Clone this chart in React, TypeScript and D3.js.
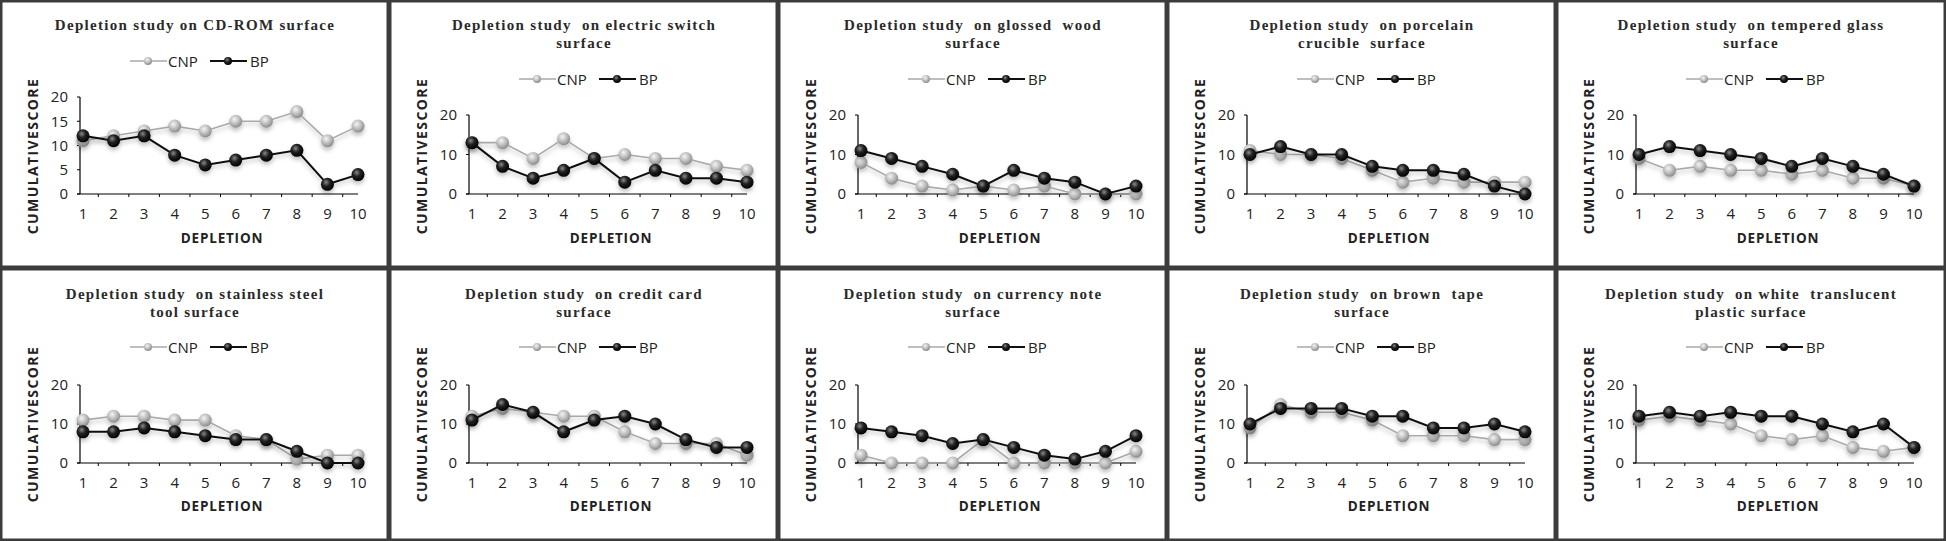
import React from "react";
import * as d3 from "d3";

// depletion number (x categories)
const depletions = [1, 2, 3, 4, 5, 6, 7, 8, 9, 10];
const seriesNames = ["CNP", "BP"];

// cumulative scores
const cdromCNP = [11, 12, 13, 14, 13, 15, 15, 17, 11, 14];
const cdromBP = [12, 11, 12, 8, 6, 7, 8, 9, 2, 4];
const switchCNP = [13, 13, 9, 14, 9, 10, 9, 9, 7, 6];
const switchBP = [13, 7, 4, 6, 9, 3, 6, 4, 4, 3];
const woodCNP = [8, 4, 2, 1, 2, 1, 2, 0, 0, 0];
const woodBP = [11, 9, 7, 5, 2, 6, 4, 3, 0, 2];
const porcelainCNP = [11, 10, 10, 9, 6, 3, 4, 3, 3, 3];
const porcelainBP = [10, 12, 10, 10, 7, 6, 6, 5, 2, 0];
const glassCNP = [9, 6, 7, 6, 6, 5, 6, 4, 4, 2];
const glassBP = [10, 12, 11, 10, 9, 7, 9, 7, 5, 2];
const steelCNP = [11, 12, 12, 11, 11, 7, 6, 1, 2, 2];
const steelBP = [8, 8, 9, 8, 7, 6, 6, 3, 0, 0];
const cardCNP = [12, 14, 13, 12, 12, 8, 5, 5, 5, 2];
const cardBP = [11, 15, 13, 8, 11, 12, 10, 6, 4, 4];
const noteCNP = [2, 0, 0, 0, 6, 0, 0, 0, 0, 3];
const noteBP = [9, 8, 7, 5, 6, 4, 2, 1, 3, 7];
const tapeCNP = [9, 15, 13, 13, 11, 7, 7, 7, 6, 6];
const tapeBP = [10, 14, 14, 14, 12, 12, 9, 9, 10, 8];
const plasticCNP = [11, 12, 11, 10, 7, 6, 7, 4, 3, 4];
const plasticBP = [12, 13, 12, 13, 12, 12, 10, 8, 10, 4];

const titles = [
  ["Depletion study on CD-ROM surface"],
  ["Depletion study  on electric switch", "surface"],
  ["Depletion study  on glossed  wood", "surface"],
  ["Depletion study  on porcelain", "crucible  surface"],
  ["Depletion study  on tempered glass", "surface"],
  ["Depletion study  on stainless steel", "tool surface"],
  ["Depletion study  on credit card", "surface"],
  ["Depletion study  on currency note", "surface"],
  ["Depletion study  on brown  tape", "surface"],
  ["Depletion study  on white  translucent", "plastic surface"],
];

const cnpSeries = [cdromCNP, switchCNP, woodCNP, porcelainCNP, glassCNP, steelCNP, cardCNP, noteCNP, tapeCNP, plasticCNP];
const bpSeries = [cdromBP, switchBP, woodBP, porcelainBP, glassBP, steelBP, cardBP, noteBP, tapeBP, plasticBP];

const ticksFine = [0, 5, 10, 15, 20];
const ticksCoarse = [0, 10, 20];

const W = 1946;
const H = 541;
const colW = 389;
const rowTops = [0, 268];
const rowHeights = [268, 273];

const tickFont = "'Open Sans', 'Noto Sans', sans-serif";
const titleFont = "'Liberation Serif', serif";

function Panel({ index }: { index: number }) {
  const col = index % 5;
  const row = Math.floor(index / 5);
  const px = col * colW;
  const py = rowTops[row];
  const pw = col === 4 ? W - px : colW;
  const ph = rowHeights[row];
  const single = titles[index].length === 1;

  const yTop = single ? 97 : row === 0 ? 115 : 117;
  const yBottom = row === 0 ? 194 : 195;
  const axisX = 80;
  const yTicks = single ? ticksFine : ticksCoarse;
  const legendY = single ? 67 : 85;

  const x = d3.scalePoint<number>().domain(depletions).range([83, 358]);
  const y = d3.scaleLinear().domain([0, 20]).range([yBottom, yTop]);
  const line = d3
    .line<number>()
    .x((_, i) => x(depletions[i]) as number)
    .y((d) => y(d));

  const step = x.step();
  const series = [
    { name: seriesNames[0], values: cnpSeries[index], stroke: "#a9a9a9", grad: "url(#gCNP)", width: 1.6 },
    { name: seriesNames[1], values: bpSeries[index], stroke: "#111", grad: "url(#gBP)", width: 2 },
  ];

  return (
    <g transform={`translate(${px},${py})`}>
      <rect x={1.25} y={1.25} width={pw - 2.5} height={ph - 2.5} fill="#fff" stroke="#3c3c3c" strokeWidth={2.5} />
      {titles[index].map((t, i) => (
        <text
          key={i}
          x={195}
          y={(row === 0 ? 30 : 31) + i * 18}
          textAnchor="middle"
          fontFamily={titleFont}
          fontWeight="bold"
          fontSize={15}
          letterSpacing={1.3}
          fill="#2a2a2a"
          style={{ whiteSpace: "pre" }}
        >
          {t}
        </text>
      ))}

      {/* legend */}
      <g fontFamily={tickFont} fontSize={15} fill="#222">
        <line x1={130} x2={167} y1={legendY - 6} y2={legendY - 6} stroke="#a9a9a9" strokeWidth={1.6} />
        <circle cx={148} cy={legendY - 6} r={4} fill="url(#gCNP)" />
        <text x={168} y={legendY}>{seriesNames[0]}</text>
        <line x1={210} x2={247} y1={legendY - 6} y2={legendY - 6} stroke="#111" strokeWidth={2} />
        <circle cx={228} cy={legendY - 6} r={4} fill="url(#gBP)" />
        <text x={250} y={legendY}>{seriesNames[1]}</text>
      </g>

      {/* axes */}
      <line x1={axisX} x2={axisX} y1={yTop} y2={yBottom} stroke="#000" strokeWidth={1.2} />
      <line x1={axisX - 3} x2={x(10) as number} y1={yBottom} y2={yBottom} stroke="#000" strokeWidth={1.2} />
      {yTicks.map((t) => (
        <g key={t}>
          <line x1={axisX - 3} x2={axisX} y1={y(t)} y2={y(t)} stroke="#000" strokeWidth={1} />
          <text
            x={68}
            y={y(t)}
            dy="0.35em"
            textAnchor="end"
            fontFamily={tickFont}
            fontSize={15}
            fill="#222"
          >
            {t}
          </text>
        </g>
      ))}
      {depletions.map((d, i) => (
        <g key={d}>
          {i < depletions.length - 1 && (
            <line
              x1={(x(d) as number) + step / 2}
              x2={(x(d) as number) + step / 2}
              y1={yBottom}
              y2={yBottom + 3}
              stroke="#000"
              strokeWidth={1}
            />
          )}
          <text
            x={x(d) as number}
            y={yBottom + 25}
            textAnchor="middle"
            fontFamily={tickFont}
            fontSize={15}
            fill="#222"
          >
            {d}
          </text>
        </g>
      ))}
      <text
        x={222}
        y={243}
        textAnchor="middle"
        fontFamily={tickFont}
        fontWeight="bold"
        fontSize={13.5}
        letterSpacing={0.8}
        fill="#222"
      >
        DEPLETION
      </text>
      <text
        transform={`translate(38,156) rotate(-90)`}
        textAnchor="middle"
        fontFamily={tickFont}
        fontWeight="bold"
        fontSize={14}
        letterSpacing={1.4}
        fill="#222"
      >
        CUMULATIVESCORE
      </text>

      {/* series */}
      {series.map((s) => (
        <g key={s.name} filter="url(#shadow)">
          <path d={line(s.values) || ""} fill="none" stroke={s.stroke} strokeWidth={s.width} />
          {s.values.map((v, i) => (
            <circle key={i} cx={x(depletions[i]) as number} cy={y(v)} r={6.5} fill={s.grad} />
          ))}
        </g>
      ))}
    </g>
  );
}

export default function App() {
  return (
    <svg width={W} height={H} style={{ position: "absolute", left: 0, top: 0, background: "#fff" }}>
      <defs>
        <radialGradient id="gCNP" cx="40%" cy="35%" r="65%">
          <stop offset="0%" stopColor="#f4f4f4" />
          <stop offset="55%" stopColor="#bdbdbd" />
          <stop offset="100%" stopColor="#8c8c8c" />
        </radialGradient>
        <radialGradient id="gBP" cx="40%" cy="35%" r="65%">
          <stop offset="0%" stopColor="#8a8a8a" />
          <stop offset="45%" stopColor="#222" />
          <stop offset="100%" stopColor="#000" />
        </radialGradient>
        <filter id="shadow" x="-10%" y="-20%" width="120%" height="160%">
          <feDropShadow dx={0} dy={3} stdDeviation={2} floodColor="#000" floodOpacity={0.25} />
        </filter>
      </defs>
      {titles.map((_, i) => (
        <Panel key={i} index={i} />
      ))}
    </svg>
  );
}
